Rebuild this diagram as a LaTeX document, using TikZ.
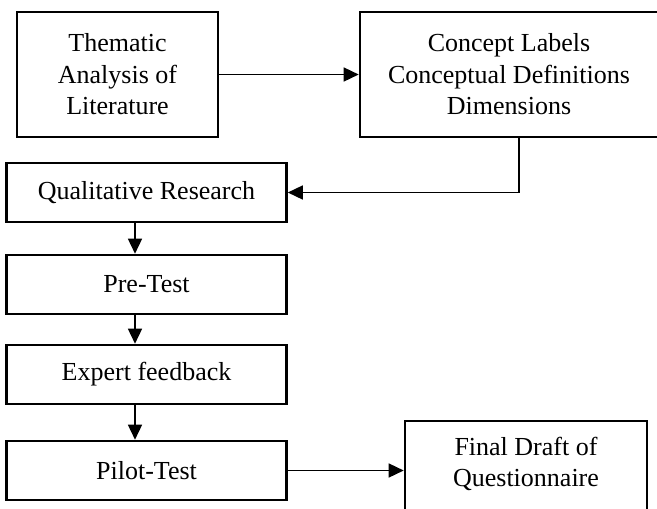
\documentclass[tikz,border=0pt]{standalone}
\usepackage{fontspec}
\setmainfont{Liberation Serif}
\usetikzlibrary{arrows.meta}
\begin{document}
\begin{tikzpicture}[x=1pt,y=-1pt,
  box/.style={draw, line width=2.6pt, rectangle, inner sep=0pt, align=center,
    font=\fontsize{26}{31.5}\selectfont},
  txt/.style={inner sep=0pt, align=center, font=\fontsize{26}{31.5}\selectfont},
  conn/.style={line width=1.5pt, -{Triangle[length=15pt,width=14pt]}},
  link/.style={line width=1.5pt}]
\useasboundingbox (0,0) rectangle (657,509);
\clip (0,0) rectangle (657,509);
\node[box, minimum width=201pt, minimum height=125pt] (them) at (117.5,74.5) {Thematic\\Analysis of\\Literature};
\node[box, minimum width=298pt, minimum height=125pt] (concept) at (509,74.5) {Concept Labels\\Conceptual Definitions\\Dimensions};
\node[box, minimum width=280pt, minimum height=59pt] (qual) at (146.5,192.5) {Qualitative Research};
\node[box, minimum width=280pt, minimum height=59pt] (pre) at (146.5,284.5) {Pre-Test};
\node[box, minimum width=280pt, minimum height=59pt] (expert) at (146.5,374.5) {Expert feedback};
\node[box, minimum width=280pt, minimum height=59pt] (pilot) at (146.5,470.5) {Pilot-Test};
\node[box, minimum width=242pt, minimum height=109pt] (final) at (526,475.5) {};
\node[txt] (finaltext) at (526,464) {Final Draft of\\Questionnaire};
\draw[conn] (them.east) -- (concept.west);
\draw[conn] ([xshift=10pt]concept.south) |- (qual.east);
\draw[conn] ([xshift=-11.5pt]qual.south) -- ([xshift=-11.5pt]pre.north);
\draw[conn] ([xshift=-11.5pt]pre.south) -- ([xshift=-11.5pt]expert.north);
\draw[conn] ([xshift=-11.5pt]expert.south) -- ([xshift=-11.5pt]pilot.north);
\draw[conn] (pilot.east) -- (pilot.east -| final.west);
\end{tikzpicture}
\end{document}
